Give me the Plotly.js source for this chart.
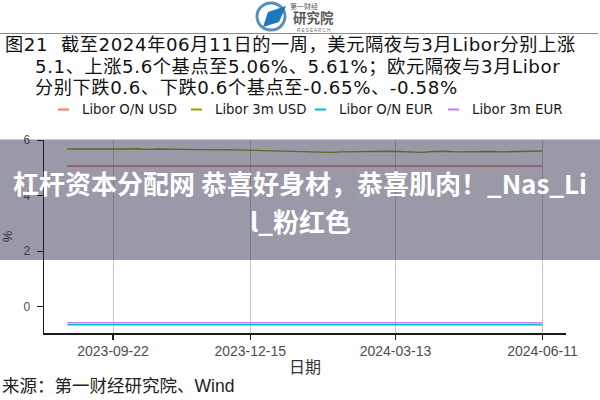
<!DOCTYPE html>
<html>
<head>
<meta charset="utf-8">
<script src="https://cdn.plot.ly/plotly-3.0.1.min.js"></script>
<style>html,body{margin:0;padding:0;background:#fff;}#chart{width:600px;height:400px;}</style>
</head>
<body>
<div id="chart"></div>
<script>
// ---- data ----
const dates = ['2023-08-25','2023-09-01','2023-09-08','2023-09-15','2023-09-22','2023-09-29','2023-10-06','2023-10-13','2023-10-20','2023-10-27','2023-11-03','2023-11-10','2023-11-17','2023-11-24','2023-12-01','2023-12-08','2023-12-15','2023-12-22','2023-12-29','2024-01-05','2024-01-12','2024-01-19','2024-01-26','2024-02-02','2024-02-09','2024-02-16','2024-02-23','2024-03-01','2024-03-08','2024-03-15','2024-03-22','2024-03-29','2024-04-05','2024-04-12','2024-04-19','2024-04-26','2024-05-03','2024-05-10','2024-05-17','2024-05-24','2024-05-31','2024-06-07','2024-06-11'];
const liborOnUsd = [5.07,5.07,5.07,5.07,5.07,5.07,5.07,5.07,5.07,5.07,5.07,5.07,5.07,5.07,5.07,5.07,5.07,5.07,5.07,5.07,5.07,5.07,5.07,5.07,5.07,5.07,5.07,5.07,5.07,5.07,5.07,5.07,5.07,5.07,5.07,5.07,5.07,5.07,5.07,5.07,5.07,5.07,5.07];
const libor3mUsd = [5.68,5.69,5.68,5.68,5.67,5.68,5.69,5.67,5.68,5.67,5.66,5.67,5.66,5.65,5.66,5.65,5.65,5.63,5.62,5.62,5.61,5.60,5.58,5.56,5.58,5.59,5.60,5.61,5.60,5.59,5.58,5.56,5.59,5.60,5.58,5.59,5.58,5.59,5.58,5.59,5.60,5.61,5.61];
const liborOnEur = [-0.65,-0.65,-0.65,-0.65,-0.65,-0.65,-0.65,-0.65,-0.65,-0.65,-0.65,-0.65,-0.65,-0.65,-0.65,-0.65,-0.65,-0.65,-0.65,-0.65,-0.65,-0.65,-0.65,-0.65,-0.65,-0.65,-0.65,-0.65,-0.65,-0.65,-0.65,-0.65,-0.65,-0.65,-0.65,-0.65,-0.65,-0.65,-0.65,-0.65,-0.65,-0.65,-0.65];
const libor3mEur = [-0.58,-0.58,-0.58,-0.58,-0.58,-0.58,-0.58,-0.58,-0.58,-0.58,-0.58,-0.58,-0.58,-0.58,-0.58,-0.58,-0.58,-0.58,-0.58,-0.58,-0.58,-0.58,-0.58,-0.58,-0.58,-0.58,-0.58,-0.58,-0.58,-0.58,-0.58,-0.58,-0.58,-0.58,-0.58,-0.58,-0.58,-0.58,-0.58,-0.58,-0.58,-0.58,-0.58];
const seriesNames = ['Libor O/N USD','Libor 3m USD','Libor O/N EUR','Libor 3m EUR'];
const tickDates = ['2023-09-22','2023-12-15','2024-03-13','2024-06-11'];
const yTicks = [0, 2, 4, 6];
const titleLines = ['图21  截至2024年06月11日的一周，美元隔夜与3月Libor分别上涨',
                    '5.1、上涨5.6个基点至5.06%、5.61%；欧元隔夜与3月Libor',
                    '分别下跌0.6、下跌0.6个基点至-0.65%、-0.58%'];
const sourceText = '来源：第一财经研究院、Wind';
const bannerLines = ['杠杆资本分配网 恭喜好身材，恭喜肌肉！_Nas_Li', 'l_粉红色'];

// ---- styles ----
const colors = ['#F8766D', '#7CAE00', '#00BFC4', '#C77CFF'];
const widths = [1.4, 1.4, 1.6, 1.6];
const FONT = '"Liberation Sans", Arial, "Noto Sans CJK SC", sans-serif';
const WIDE = '"DejaVu Sans", "Noto Sans CJK SC", sans-serif';

// pixel -> paper helpers (plot area: x 44..566, y 140..333)
const PL = 44, PR = 566, PT = 140, PB = 333;
const px = x => (x - PL) / (PR - PL);
const py = y => (PB - y) / (PB - PT);

const series = [liborOnUsd, libor3mUsd, liborOnEur, libor3mEur];
const traces = series.map((ys, i) => ({
  type: 'scatter', mode: 'lines', x: dates, y: ys, name: seriesNames[i],
  line: {color: colors[i], width: widths[i]}, showlegend: false, hoverinfo: 'skip'
}));

const annotations = [];
const shapes = [];

// title lines
const titleX = [3, 33, 33], titleY = [44.5, 66.5, 88];
titleLines.forEach((t, i) => annotations.push({
  xref: 'paper', yref: 'paper', x: px(titleX[i]), y: py(titleY[i]),
  xanchor: 'left', yanchor: 'middle', showarrow: false,
  text: '<span style="letter-spacing:0.6px">' + t + '</span>',
  font: {family: WIDE, size: 18.2, color: '#111'}
}));

// custom legend
const legTextX = [80, 213, 337, 470], legY = 109.5;
seriesNames.forEach((n, i) => {
  shapes.push({type: 'line', xref: 'paper', yref: 'paper',
    x0: px(legTextX[i] - 22), x1: px(legTextX[i] - 11), y0: py(legY), y1: py(legY),
    line: {color: colors[i], width: 2}});
  annotations.push({xref: 'paper', yref: 'paper', x: px(legTextX[i]), y: py(legY),
    xanchor: 'left', yanchor: 'middle', showarrow: false, text: n,
    font: {family: WIDE, size: 13.3, color: '#1a1a1a'}});
});

// source
annotations.push({xref: 'paper', yref: 'paper', x: px(0), y: py(386),
  xanchor: 'left', yanchor: 'middle', showarrow: false, text: sourceText,
  font: {family: FONT, size: 17.5, color: '#222'}});

// header rule line
shapes.push({type: 'line', xref: 'paper', yref: 'paper', x0: px(0), x1: px(598), y0: py(33.5), y1: py(33.5),
  line: {color: '#8a8a8a', width: 1}, layer: 'above'});

// logo
shapes.push({type: 'circle', xref: 'paper', yref: 'paper', x0: px(257), x1: px(285), y0: py(30), y1: py(3),
  line: {color: '#5b8fbf', width: 3}});
shapes.push({type: 'path', xref: 'paper', yref: 'paper',
  path: `M ${px(263)} ${py(27)} L ${px(268)} ${py(12)} L ${px(286)} ${py(6)} L ${px(279)} ${py(22)} Z`,
  fillcolor: '#1b78c0', line: {width: 0}});
annotations.push({xref: 'paper', yref: 'paper', x: px(304), y: py(6), xanchor: 'center', yanchor: 'middle',
  showarrow: false, text: '第一财经', font: {family: FONT, size: 7, color: '#555'}});
annotations.push({xref: 'paper', yref: 'paper', x: px(313), y: py(17.5), xanchor: 'center', yanchor: 'middle',
  showarrow: false, text: '<b>研究院</b>', font: {family: FONT, size: 13.5, color: '#5a5a5a'}});
annotations.push({xref: 'paper', yref: 'paper', x: px(313), y: py(30.5), xanchor: 'center', yanchor: 'middle',
  showarrow: false, text: 'R E S E A R C H', font: {family: FONT, size: 4.5, color: '#666'}});

// watermark banner
shapes.push({type: 'rect', xref: 'paper', yref: 'paper', x0: px(0), x1: px(600), y0: py(260), y1: py(139.5),
  fillcolor: 'rgba(40,38,70,0.47)', line: {width: 0}, layer: 'above'});
const bannerY = [182, 220];
bannerLines.forEach((t, i) => annotations.push({xref: 'paper', yref: 'paper', x: px(300), y: py(bannerY[i]),
  xanchor: 'center', yanchor: 'middle', showarrow: false, text: '<b>' + t + '</b>',
  font: {family: '"Noto Sans CJK SC", sans-serif', size: 26, color: '#ffffff'}}));

const layout = {
  width: 600, height: 400,
  margin: {l: PL, r: 600 - PR, t: PT, b: 400 - PB, pad: 0},
  paper_bgcolor: '#ffffff', plot_bgcolor: '#ffffff',
  showlegend: false,
  xaxis: {
    type: 'date', range: ['2023-08-10 17:00', '2024-06-25 10:00'],
    tickmode: 'array', tickvals: tickDates, ticktext: tickDates,
    showgrid: true, gridcolor: '#c6c6c6', gridwidth: 1,
    showline: true, linecolor: '#1a1a1a', linewidth: 1.5,
    ticks: 'outside', ticklen: 5, tickwidth: 1.3, tickcolor: '#1a1a1a',
    tickfont: {family: FONT, size: 14, color: '#4d4d4d'},
    zeroline: false, fixedrange: true,
    title: {text: '日期', font: {family: FONT, size: 16, color: '#333'}, standoff: 3}
  },
  yaxis: {
    range: [-0.948, 6.007],
    tickmode: 'array', tickvals: yTicks, ticktext: yTicks.map(String),
    showgrid: false, zeroline: false,
    showline: true, linecolor: '#1a1a1a', linewidth: 1.5,
    ticks: 'outside', ticklen: 6, tickwidth: 1.3, tickcolor: '#1a1a1a',
    ticklabelstandoff: 4,
    tickfont: {family: FONT, size: 12, color: '#4d4d4d'},
    title: {text: '%', font: {family: FONT, size: 13, color: '#333'}, standoff: 10},
    fixedrange: true
  },
  annotations: annotations,
  shapes: shapes
};

Plotly.newPlot('chart', traces, layout, {displayModeBar: false, staticPlot: true});
</script>
</body>
</html>
